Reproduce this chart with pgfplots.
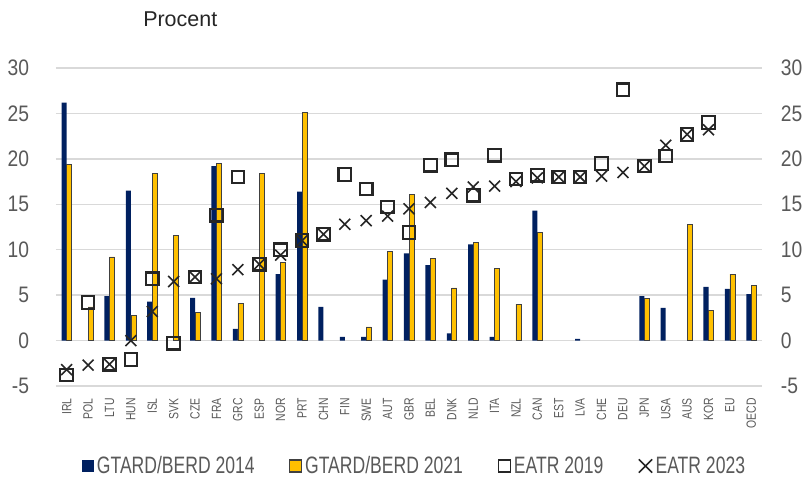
\documentclass[border=0pt]{standalone}
\usepackage{pgfplots}
\pgfplotsset{compat=1.18}
\usepackage{fontspec}
\setmainfont{Liberation Sans}
\newfontfamily\condtick[FakeStretch=0.86]{Liberation Sans}
\newfontfamily\condleg[FakeStretch=0.74]{Liberation Sans}
\newfontfamily\condx[FakeStretch=0.78]{Liberation Sans}
\definecolor{navy}{HTML}{002060}
\definecolor{gold}{HTML}{FFC000}
\definecolor{outl}{HTML}{404040}
\definecolor{gridgray}{HTML}{D9D9D9}
\definecolor{tickgray}{HTML}{595959}
\definecolor{markc}{HTML}{262626}
\begin{document}
\begin{tikzpicture}
\useasboundingbox (0,0) rectangle (602.25pt,359.25pt);
\node[anchor=base west, font=\fontsize{16.1}{18}\selectfont, text=markc, inner sep=0pt] at (107.25pt,339pt) {Procent};
\begin{axis}[
  at={(42pt,69.75pt)}, anchor=south west,
  scale only axis, width=529.5pt, height=238.5pt,
  xmin=-0.5, xmax=32.5, ymin=-5, ymax=30,
  ytick={-5,0,5,10,15,20,25,30},
  xtick={0,...,32},
  xticklabels={IRL,POL,LTU,HUN,ISL,SVK,CZE,FRA,GRC,ESP,NOR,PRT,CHN,FIN,SWE,AUT,GBR,BEL,DNK,NLD,ITA,NZL,CAN,EST,LVA,CHE,DEU,JPN,USA,AUS,KOR,EU,OECD},
  axis line style={draw=none},
  major tick length=0pt,
  ymajorgrids, grid style={color=gridgray, line width=1pt},
  /pgf/number format/assume math mode=true,
  yticklabel style={font=\condtick\fontsize{16.8}{18}\selectfont, text=tickgray, inner sep=0pt, anchor=east, xshift=-20pt},
  xticklabel style={font=\condx\fontsize{10}{11}\selectfont, text=tickgray, yshift=-9pt, rotate=90, anchor=east, inner sep=0pt},
  legend columns=4,
  legend cell align=left,
  legend style={at={(0.5085,-0.2516)}, anchor=center, draw=none, fill=none,
    font=\condleg\fontsize{17.8}{19}\selectfont, text=tickgray,
    nodes={inner xsep=2pt, inner ysep=1pt},
    /tikz/every even column/.append style={column sep=24pt}},
]
\addplot[ybar, bar width=0.235, bar shift=-0.1175, fill=navy, draw=none,
  legend image code/.code={\fill[navy] (0pt,-4.5pt) rectangle (9pt,4.5pt);}]
coordinates {(0,26.2) (2,4.9) (3,16.5) (4,4.3) (6,4.7) (7,19.2) (8,1.3) (10,7.3) (11,16.4) (12,3.7) (13,0.4) (14,0.4) (15,6.7) (16,9.6) (17,8.3) (18,0.8) (19,10.6) (20,0.4) (22,14.3) (24,0.2) (27,4.9) (28,3.6) (30,5.9) (31,5.7) (32,5.1)};
\addlegendentry{GTARD/BERD 2014}
\addplot[ybar, bar width=0.235, bar shift=0.1175, fill=gold, draw=outl, line width=0.5pt,
  legend image code/.code={\draw[fill=gold, draw=outl, line width=0.8pt] (0pt,-4.5pt) rectangle (9pt,4.5pt);}]
coordinates {(0,19.4) (1,3.7) (2,9.2) (3,2.8) (4,18.4) (5,11.6) (6,3.1) (7,19.5) (8,4.1) (9,18.4) (10,8.6) (11,25.1) (14,1.5) (15,9.8) (16,16.1) (17,9.0) (18,5.8) (19,10.8) (20,7.9) (21,4.0) (22,11.9) (27,4.6) (29,12.8) (30,3.3) (31,7.3) (32,6.1)};
\addlegendentry{GTARD/BERD 2021}
\addplot[only marks, mark=square, mark size=4.7pt, draw=markc, line width=1.6pt,
  legend image code/.code={\draw[markc, line width=1.3pt] (0pt,-4.5pt) rectangle (9pt,4.5pt);}]
coordinates {(0,-3.8) (1,4.2) (2,-2.6) (3,-2.1) (4,6.8) (5,-0.3) (6,7.0) (7,13.8) (8,18.0) (9,8.4) (10,10.0) (11,11.0) (12,11.7) (13,18.3) (14,16.7) (15,14.7) (16,11.9) (17,19.3) (18,19.9) (19,16.0) (20,20.4) (21,17.8) (22,18.2) (23,18.0) (24,18.0) (25,19.5) (26,27.6) (27,19.2) (28,20.3) (29,22.7) (30,24.0)};
\addlegendentry{EATR 2019}
\addplot[only marks, mark=x, mark size=5.8pt, draw=markc, line width=1.2pt,
  legend image code/.code={\draw[markc, line width=1.1pt] (0pt,-5pt) -- (10pt,5pt) (0pt,5pt) -- (10pt,-5pt);}]
coordinates {(0,-3.2) (1,-2.7) (2,-2.6) (3,0.0) (4,3.2) (5,6.5) (6,7.0) (7,6.8) (8,7.8) (9,8.4) (10,9.4) (11,11.0) (12,11.7) (13,12.8) (14,13.2) (15,13.7) (16,14.5) (17,15.2) (18,16.2) (19,16.9) (20,17.0) (21,17.5) (22,17.9) (23,18.0) (24,18.0) (25,18.1) (26,18.5) (27,19.2) (28,21.5) (29,22.7) (30,23.2)};
\addlegendentry{EATR 2023}
\end{axis}
\begin{axis}[
  at={(42pt,69.75pt)}, anchor=south west,
  scale only axis, width=529.5pt, height=238.5pt,
  xmin=-0.5, xmax=32.5, ymin=-5, ymax=30,
  ytick={-5,0,5,10,15,20,25,30},
  xtick=\empty,
  yticklabel pos=right,
  axis line style={draw=none},
  major tick length=0pt,
  /pgf/number format/assume math mode=true,
  yticklabel style={font=\condtick\fontsize{16.8}{18}\selectfont, text=tickgray, inner sep=0pt, anchor=west, xshift=14pt},
]
\end{axis}
\end{tikzpicture}
\end{document}
